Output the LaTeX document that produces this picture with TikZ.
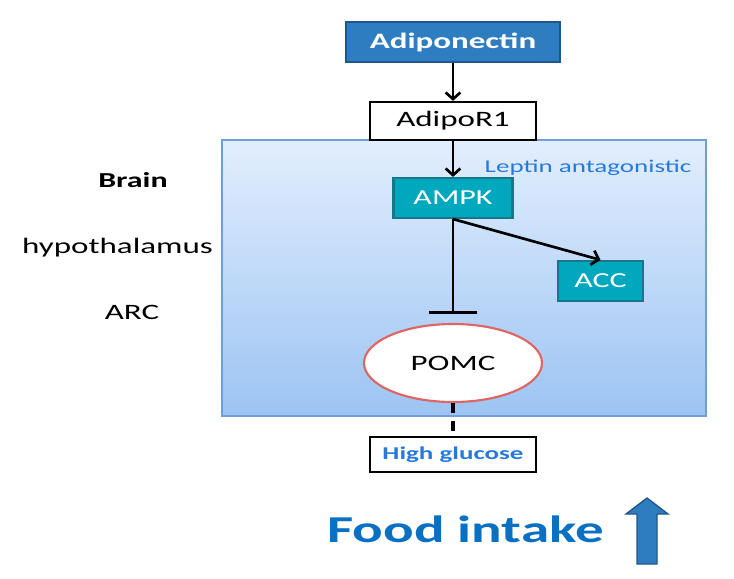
\documentclass[tikz,border=0pt]{standalone}
\usepackage{fontspec}
\setmainfont{Carlito}[FakeStretch=1.5]
\usetikzlibrary{arrows.meta, shapes.geometric}
\definecolor{adipoblue}{RGB}{46,125,192}
\definecolor{adipoline}{RGB}{31,86,140}
\definecolor{tealfill}{RGB}{0,168,190}
\definecolor{tealline}{RGB}{22,118,138}
\definecolor{regiontop}{RGB}{226,238,253}
\definecolor{regionbot}{RGB}{156,196,243}
\definecolor{regionline}{RGB}{110,160,215}
\definecolor{textblue}{RGB}{40,122,218}
\definecolor{foodblue}{RGB}{10,112,194}
\definecolor{pomcred}{RGB}{224,100,100}
\tikzstyle{box} = [rectangle, inner sep=0pt, minimum height=30pt, line width=1.6pt]
\tikzstyle{source} = [box, fill=adipoblue, draw=adipoline, text=white, minimum width=160.5pt, font=\bfseries\fontsize{16.5}{18}\selectfont]
\tikzstyle{plain} = [box, fill=white, draw=black, minimum width=124.5pt]
\tikzstyle{kinase} = [box, fill=tealfill, draw=tealline, text=white, font=\fontsize{16}{17}\selectfont]
\tikzstyle{side} = [anchor=base, inner sep=0pt, font=\fontsize{16.5}{18}\selectfont]
\tikzstyle{arrow} = [line width=2pt, -{Straight Barb[length=5pt,width=11pt,line width=2pt]}]
\tikzstyle{inhibit} = [line width=2pt, -{Bar[width=36pt,line width=2pt]}]

\begin{document}
\begin{tikzpicture}[x=0.75pt, y=-0.75pt]
	\useasboundingbox (0,0) rectangle (734,578);
	%Brain region
	\shade[top color=regiontop, bottom color=regionbot] (222,140) rectangle (706,416);
	\draw[regionline, line width=1.5pt] (222,140) rectangle (706,416);
	\node[side, font=\bfseries\fontsize{16}{18}\selectfont] (brain) at (133,187) {Brain};
	\node[side] (hypo) at (117.5,253) {hypothalamus};
	\node[side] (arc) at (132,319) {ARC};
	\node[anchor=base, inner sep=0pt, text=textblue, font=\fontsize{13.5}{15}\selectfont] (leptin) at (588,172) {Leptin antagonistic};
	%Adiponectin and receptor
	\node[source] (adipo) at (453,42) {Adiponectin};
	\node[plain, minimum height=28.5pt, font=\fontsize{16.5}{18}\selectfont] (adipor) at (453,121) {AdipoR1};
	%Kinases
	\node[kinase, minimum width=89.25pt] (ampk) at (453,198) {AMPK};
	\node[kinase, minimum width=63.75pt] (acc) at (600.5,281) {ACC};
	%POMC
	\node[ellipse, draw=pomcred, fill=white, line width=1.6pt, minimum width=133.5pt, minimum height=58.5pt, inner sep=0pt, font=\fontsize{16.5}{18}\selectfont] (pomc) at (453,363) {POMC};
	%High glucose
	\node[plain, minimum height=26.25pt, text=textblue, font=\bfseries\fontsize{13.5}{15}\selectfont] (glucose) at (453,454.5) {High glucose};
	%Links
	\draw[arrow] (adipo) -- (adipor);
	\draw[arrow] (adipor) -- (ampk);
	\draw[arrow] (ampk.south) -- (acc.north);
	\draw[inhibit, shorten >=6.75pt] (ampk) -- (pomc);
	\draw[line width=2.4pt, dash pattern=on 7.5pt off 6pt] (pomc) -- (glucose);
	%Food intake
	\node[anchor=base, inner sep=0pt, text=foodblue, font=\bfseries\fontsize{28.5}{30}\selectfont] (food) at (465.5,542) {Food intake};
	\draw[fill=adipoblue, draw=adipoline, line width=1pt] (647,498) -- (668,514) -- (657,514) -- (657,564) -- (637,564) -- (637,514) -- (626,514) -- cycle;
\end{tikzpicture}
\end{document}
